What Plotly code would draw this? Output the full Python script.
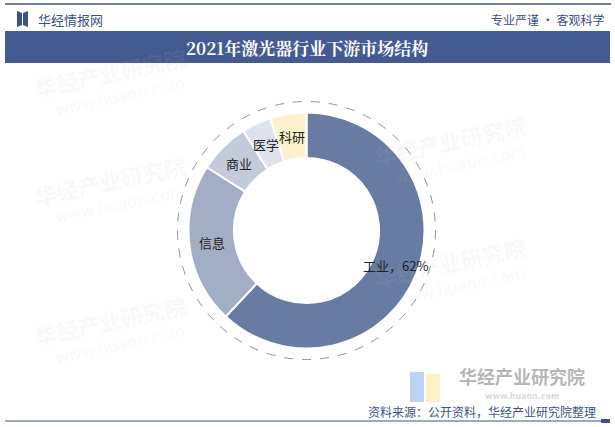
import math
import plotly.graph_objects as go

categories = ["工业", "信息", "商业", "医学", "科研"]
shares = [62, 22, 7, 4, 5]
colors = ["#687ca3", "#a2aec6", "#c3cbdb", "#dde2ec", "#fdf0cc"]
label_text = ["工业，62%", "信息", "商业", "医学", "科研"]

W, H = 615, 427
cx, cy, r_out = 306.5, 230.5, 118
hole = 0.615

fig = go.Figure()
fig.add_trace(go.Pie(
    labels=categories, values=shares,
    hole=hole, sort=False, direction="clockwise", rotation=0,
    marker=dict(colors=colors, line=dict(color="white", width=2)),
    textinfo="none",
    domain=dict(x=[(cx - r_out) / W, (cx + r_out) / W],
                y=[(H - cy - r_out) / H, (H - cy + r_out) / H]),
    showlegend=False, hoverinfo="label+percent",
))

shapes = []
shapes.append(dict(type="line", xref="paper", yref="paper", x0=5/W, x1=611/W, y0=1-4/H, y1=1-4/H,
                   line=dict(color="#3d5287", width=1.5)))
shapes.append(dict(type="rect", xref="paper", yref="paper", x0=5/W, x1=610/W, y0=1-63/H, y1=1-31/H,
                   fillcolor="#445b92", line=dict(width=0), layer="below"))
shapes.append(dict(type="path", xref="paper", yref="paper",
                   path=f"M {17/W} {1-11/H} L {22/W} {1-13/H} L {22/W} {1-25/H} L {17/W} {1-27/H} Z",
                   fillcolor="#3d5287", line=dict(width=0)))
shapes.append(dict(type="path", xref="paper", yref="paper",
                   path=f"M {28/W} {1-11/H} L {23/W} {1-13/H} L {23/W} {1-25/H} L {28/W} {1-27/H} Z",
                   fillcolor="#3d5287", line=dict(width=0)))
shapes.append(dict(type="line", xref="paper", yref="paper", x0=5/W, x1=606/W, y0=1-421/H, y1=1-421/H,
                   line=dict(color="#3d5287", width=1.2)))
shapes.append(dict(type="rect", xref="paper", yref="paper", x0=601/W, x1=610/W, y0=1-423/H, y1=1-419/H,
                   fillcolor="#3d5287", line=dict(width=0)))
rd = 129
shapes.append(dict(type="circle", xref="paper", yref="paper",
                   x0=(cx - rd)/W, x1=(cx + rd)/W, y0=(H - cy - rd)/H, y1=(H - cy + rd)/H,
                   line=dict(color="#8d94a6", width=1, dash="dash")))
shapes.append(dict(type="rect", xref="paper", yref="paper", x0=410/W, x1=424/W, y0=1-402/H, y1=1-372/H,
                   fillcolor="rgba(120,170,235,0.5)", line=dict(width=0), layer="below"))
shapes.append(dict(type="rect", xref="paper", yref="paper", x0=426/W, x1=440/W, y0=1-402/H, y1=1-374/H,
                   fillcolor="rgba(253,225,140,0.5)", line=dict(width=0), layer="below"))

annotations = []
for (wx, wy) in [(110, 72), (110, 180), (110, 320), (450, 140), (450, 262)]:
    annotations.append(dict(text="<b>华经产业研究院</b>", x=wx/W, y=1-wy/H, xanchor="center", yanchor="middle",
                            textangle=-12,
                            font=dict(family="Noto Sans CJK SC", size=22, color="rgba(190,190,190,0.10)")))
    annotations.append(dict(text="www.huaon.com", x=(wx+10)/W, y=1-(wy+24)/H, xanchor="center", yanchor="middle",
                            textangle=-12,
                            font=dict(family="DejaVu Sans", size=16, color="rgba(190,190,190,0.10)")))
annotations += [
    dict(text="华经情报网", x=36/W, y=1-19/H, xanchor="left", yanchor="middle",
         font=dict(family="Noto Sans CJK SC", size=13, color="#3d5287")),
    dict(text="专业严谨 • 客观科学", x=606/W, y=1-19/H, xanchor="right", yanchor="middle",
         font=dict(family="Noto Sans CJK SC", size=12, color="#3d5287")),
    dict(text="<b>2021年激光器行业下游市场结构</b>", x=307/W, y=1-47/H, xanchor="center", yanchor="middle",
         font=dict(family="Noto Serif CJK SC, Noto Sans CJK SC", size=17, color="white")),
    dict(text="<b>华经产业研究院</b>", x=522/W, y=1-376/H, xanchor="center", yanchor="middle",
         font=dict(family="Noto Sans CJK SC", size=18, color="rgba(150,150,150,0.7)")),
    dict(text="<b>www.huaon.com</b>", x=522/W, y=1-396/H, xanchor="center", yanchor="middle",
         font=dict(family="DejaVu Sans", size=8, color="rgba(170,170,170,0.45)")),
    dict(text="资料来源：公开资料，华经产业研究院整理", x=598/W, y=1-411/H, xanchor="right", yanchor="middle",
         font=dict(family="Noto Sans CJK SC", size=12, color="#3d5287")),
]

total = sum(shares)
cum = 0
r_lab = r_out * (1 + hole) / 2
for txt, v in zip(label_text, shares):
    mid = (cum + v / 2) / total * 2 * math.pi
    cum += v
    px = cx + r_lab * math.sin(mid)
    py = cy - r_lab * math.cos(mid)
    annotations.append(dict(text=txt, x=px/W, y=1-py/H, xanchor="center", yanchor="middle",
                            font=dict(family="Noto Sans CJK SC", size=13, color="#222222")))

for a in annotations:
    a.setdefault("showarrow", False)
    a["xref"] = "paper"
    a["yref"] = "paper"

fig.update_layout(
    width=W, height=H, margin=dict(l=0, r=0, t=0, b=0),
    paper_bgcolor="white", plot_bgcolor="white",
    shapes=shapes, annotations=annotations,
)

fig.write_html("out.html", config={"displayModeBar": False},
               post_script="document.body.style.margin='0';document.body.style.overflow='hidden';")
